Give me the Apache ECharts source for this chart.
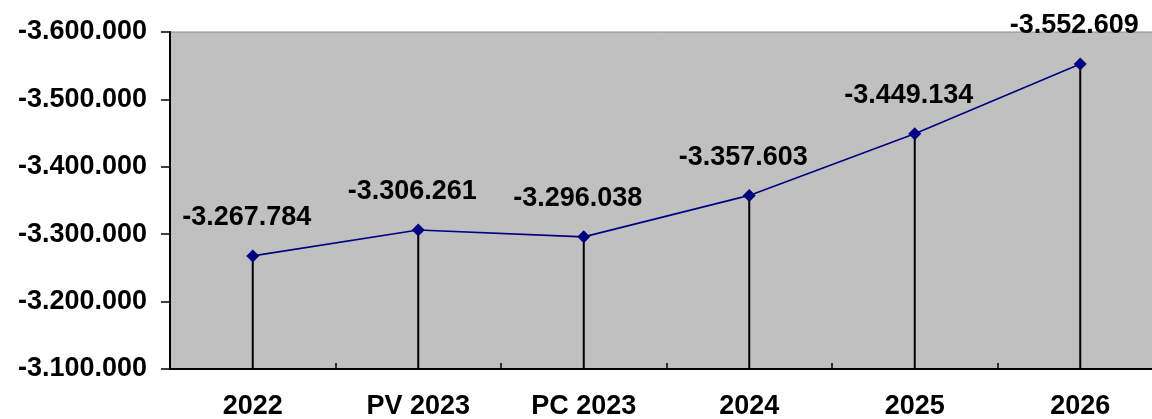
<!DOCTYPE html>
<html>
<head>
<meta charset="utf-8">
<script src="https://cdn.jsdelivr.net/npm/echarts@6/dist/echarts.min.js"></script>
<style>
  html, body { margin: 0; padding: 0; background: #fff; }
  #chart { width: 1152px; height: 419px; }
</style>
</head>
<body>
<div id="chart"></div>
<script>
// categories and values
const categories = ['2022', 'PV 2023', 'PC 2023', '2024', '2025', '2026'];
const values = [-3267784, -3306261, -3296038, -3357603, -3449134, -3552609];
const yTicks = { min: -3600000, max: -3100000, interval: 100000 };

const fmt = (v) => {
  const s = Math.abs(Math.round(v)).toString().replace(/\B(?=(\d{3})+(?!\d))/g, '.');
  return (v < 0 ? '-' : '') + s;
};

const font = 'Liberation Sans, Arial, sans-serif';

const chart = echarts.init(document.getElementById('chart'));
chart.setOption({
  animation: false,
  grid: {
    left: 170,
    width: 993,
    top: 32,
    bottom: 50,
    outerBoundsMode: 'none',
    containLabel: false,
    show: true,
    backgroundColor: '#C0C0C0',
    borderColor: '#8c8c8c',
    borderWidth: 1,
  },
  xAxis: {
    type: 'category',
    data: categories,
    boundaryGap: true,
    axisLine: { lineStyle: { color: '#000', width: 2 } },
    axisTick: { show: true, inside: true, length: 6, lineStyle: { color: '#000', width: 1.5 } },
    axisLabel: {
      color: '#000',
      fontFamily: font,
      fontWeight: 'bold',
      fontSize: 27,
      margin: 24,
    },
    splitLine: { show: false },
  },
  yAxis: {
    type: 'value',
    inverse: true,
    min: yTicks.min,
    max: yTicks.max,
    interval: yTicks.interval,
    axisLine: { show: true, lineStyle: { color: '#000', width: 2 } },
    axisTick: { show: true, length: 9, lineStyle: { color: '#000', width: 1.5 } },
    axisLabel: {
      color: '#000',
      fontFamily: font,
      fontWeight: 'bold',
      fontSize: 27,
      margin: 23,
      formatter: fmt,
    },
    splitLine: { show: false },
  },
  series: [
    {
      // drop lines down to the category axis
      type: 'bar',
      data: values,
      barWidth: 2,
      itemStyle: { color: '#000' },
      clip: true,
      silent: true,
      z: 1,
    },
    {
      type: 'line',
      data: values,
      symbol: 'diamond',
      symbolSize: 13,
      lineStyle: { color: '#000080', width: 1.6 },
      itemStyle: { color: '#000080' },
      z: 3,
      label: {
        show: true,
        position: 'top',
        distance: 18,
        offset: [-6, 0],
        color: '#000',
        fontFamily: font,
        fontWeight: 'bold',
        fontSize: 27,
        formatter: (p) => fmt(p.value),
      },
    },
  ],
});
</script>
</body>
</html>
